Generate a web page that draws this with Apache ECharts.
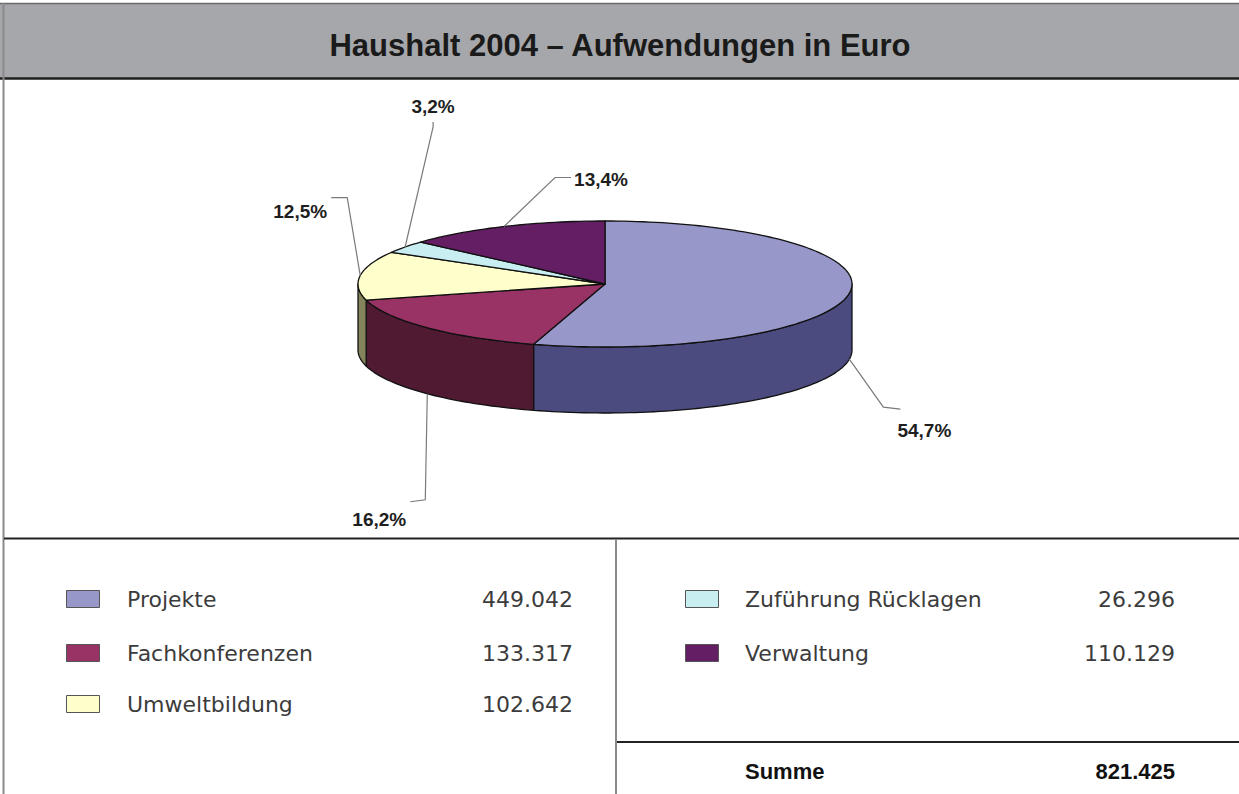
<!DOCTYPE html>
<html>
<head>
<meta charset="utf-8">
<script src="https://cdn.jsdelivr.net/npm/echarts@6/dist/echarts.min.js"></script>
<style>
  html, body { margin: 0; padding: 0; background: #fff; }
</style>
</head>
<body>
	<div id="main" style="width: 1239px; height: 794px;"></div>
	<script type="text/javascript">
		// -- Daten ------------------------------------------------------------
		var titleText = 'Haushalt 2004 – Aufwendungen in Euro';
		var categories = ['Projekte', 'Fachkonferenzen', 'Umweltbildung', 'Zuführung Rücklagen', 'Verwaltung'];
		var values = [449042, 133317, 102642, 26296, 110129];
		var summeLabel = 'Summe';
		var summe = 821425;
		// ---------------------------------------------------------------------

		// Farben (Deckel / Seitenwand)
		var topColors = ['#9797c9', '#993366', '#ffffcc', '#c9eef2', '#641e64'];
		var sideColors = ['#4b4b80', '#4f1a32', '#84845c', '#60888e', '#3a0f3a'];

		// Geometrie der 3D-Torte
		var cx = 605, cy = 284, rx = 247, ry = 63, depth = 66;

		// Führungslinien: [elbowDx, elbowDy, endDx, endDy, labelDx, labelDy]
		var leaders = [
			[34, 48, 17, 2, 41, 23],
			[-2, 106, -15, 2, -46, 20],
			[-13, -78, -16, 0, -47, 14],
			[28, -120, 0, -5, 0, -20],
			[51, -49, 16, 0, 46, 2]
		];

		// Tabelle: Spalte je Kategorie und Zeilen
		var legendCol = [0, 0, 0, 1, 1];
		var cols = [
			{ icon: 66, name: 127, value: 573 },
			{ icon: 685, name: 745, value: 1175 }
		];
		var rowY = [599, 653, 704];

		var total = 0;
		values.forEach(function (v) { total += v; });
		var startAngles = [];
		var acc = 0;
		values.forEach(function (v) {
			startAngles.push(acc / total * 360);
			acc += v;
		});

		function pt(deg, dy) {
			var r = deg * Math.PI / 180;
			return [cx + rx * Math.sin(r), cy - ry * Math.cos(r) + (dy || 0)];
		}
		function arc(a0, a1, dy) {
			var n = Math.max(2, Math.ceil((a1 - a0) / 1.5));
			var pts = [];
			for (var k = 0; k <= n; k++) {
				pts.push(pt(a0 + (a1 - a0) * k / n, dy));
			}
			return pts;
		}
		function fmtNum(v) {
			var s = String(v);
			return s.replace(/\B(?=(\d{3})+(?!\d))/g, '.');
		}
		function fmtPct(v) {
			return (v / total * 100).toFixed(1).replace('.', ',') + '%';
		}

		function renderItem(params, api) {
			var i = params.dataIndex;
			var v = api.value(0);
			var a0 = startAngles[i];
			var a1 = a0 + v / total * 360;
			var children = [];

			// Seitenwand (nur vordere Hälfte sichtbar)
			var s0 = Math.max(a0, 90), s1 = Math.min(a1, 270);
			if (s1 > s0) {
				children.push({
					type: 'polygon',
					shape: { points: arc(s0, s1, 0).concat(arc(s0, s1, depth).reverse()) },
					style: { fill: sideColors[i], stroke: '#111', lineWidth: 1.3, lineJoin: 'round' }
				});
			}
			// Deckel
			children.push({
				type: 'polygon',
				shape: { points: [[cx, cy]].concat(arc(a0, a1, 0)) },
				style: { fill: topColors[i], stroke: '#111', lineWidth: 1.3, lineJoin: 'round' }
			});

			// Beschriftung mit Führungslinie
			var mid = (a0 + a1) / 2;
			var front = Math.cos(mid * Math.PI / 180) < 0;
			var anchor = pt(mid, front ? depth : 0);
			var L = leaders[i];
			var elbow = [anchor[0] + L[0], anchor[1] + L[1]];
			var end = [elbow[0] + L[2], elbow[1] + L[3]];
			children.push({
				type: 'polyline',
				shape: { points: [anchor, elbow, end] },
				style: { fill: null, stroke: '#7a7a7a', lineWidth: 1.2 }
			});
			children.push({
				type: 'text',
				x: elbow[0] + L[4],
				y: elbow[1] + L[5],
				style: {
					text: fmtPct(v),
					fill: '#1e1e1e',
					font: 'bold 19px "Liberation Sans", Arial, sans-serif',
					align: 'center',
					verticalAlign: 'middle'
				}
			});
			return { type: 'group', children: children };
		}

		var graphics = [
			{ type: 'rect', shape: { x: 0, y: 3, width: 1239, height: 75 }, style: { fill: '#a6a7aa' } },
			{ type: 'line', shape: { x1: 0, y1: 3.5, x2: 1239, y2: 3.5 }, style: { stroke: '#6a6a6a', lineWidth: 1.5 } },
			{ type: 'line', shape: { x1: 0, y1: 78.5, x2: 1239, y2: 78.5 }, style: { stroke: '#1e1e1e', lineWidth: 2.5 } },
			{ type: 'line', shape: { x1: 3.5, y1: 3, x2: 3.5, y2: 794 }, style: { stroke: '#8a8a8a', lineWidth: 2 } },
			{ type: 'line', shape: { x1: 4, y1: 538.5, x2: 1239, y2: 538.5 }, style: { stroke: '#222', lineWidth: 2 } },
			{ type: 'line', shape: { x1: 616, y1: 539, x2: 616, y2: 794 }, style: { stroke: '#8a8a8a', lineWidth: 2 } },
			{ type: 'line', shape: { x1: 617, y1: 742, x2: 1239, y2: 742 }, style: { stroke: '#222', lineWidth: 2 } },
			{
				type: 'text', x: 620, y: 45,
				style: {
					text: titleText, fill: '#1a1a1a', align: 'center', verticalAlign: 'middle',
					font: 'bold 31px "Liberation Sans", Arial, sans-serif'
				}
			}
		];

		// Legende mit Beträgen
		var rowCount = [0, 0];
		categories.forEach(function (name, i) {
			var c = cols[legendCol[i]];
			var y = rowY[rowCount[legendCol[i]]++];
			graphics.push({
				type: 'rect', shape: { x: c.icon + 0.5, y: y - 8.5, width: 33, height: 17 },
				style: { fill: topColors[i], stroke: '#555', lineWidth: 1 }
			});
			graphics.push({
				type: 'text', x: c.name, y: y,
				style: { text: name, fill: '#3c3c3c', align: 'left', verticalAlign: 'middle',
					font: '22px "DejaVu Sans", sans-serif' }
			});
			graphics.push({
				type: 'text', x: c.value, y: y,
				style: { text: fmtNum(values[i]), fill: '#3c3c3c', align: 'right', verticalAlign: 'middle',
					font: '22px "DejaVu Sans", sans-serif' }
			});
		});
		graphics.push({
			type: 'text', x: 745, y: 771,
			style: { text: summeLabel, fill: '#111', align: 'left', verticalAlign: 'middle',
				font: 'bold 22px "Liberation Sans", Arial, sans-serif' }
		});
		graphics.push({
			type: 'text', x: 1175, y: 771,
			style: { text: fmtNum(summe), fill: '#111', align: 'right', verticalAlign: 'middle',
				font: 'bold 22px "Liberation Sans", Arial, sans-serif' }
		});

		var myChart = echarts.init(document.getElementById('main'), null, { renderer: 'svg' });
		var option = {
			animation: false,
			backgroundColor: '#fff',
			graphic: graphics,
			series: [{
				type: 'custom',
				coordinateSystem: 'none',
				renderItem: renderItem,
				data: values.map(function (v, i) { return { name: categories[i], value: [v] }; })
			}]
		};
		myChart.setOption(option);
	</script>
</body>
</html>
